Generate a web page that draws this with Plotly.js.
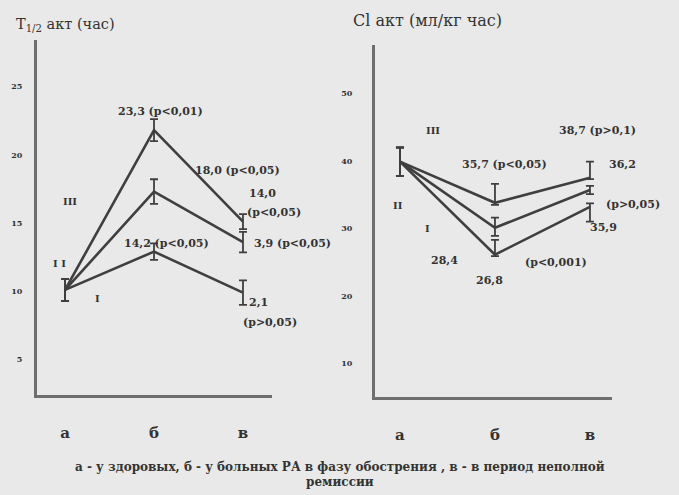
<!DOCTYPE html>
<html>
<head>
<meta charset="utf-8">
<script src="https://cdn.plot.ly/plotly-3.0.1.min.js"></script>
<style>html,body{margin:0;padding:0;background:#e9e9e9;}#chart{width:679px;height:495px;}</style>
</head>
<body>
<div id="chart"></div>
<script>
// ---- data ----
const categories = ['а', 'б', 'в'];
const catPos = [0, 1, 2];

// Left panel: T1/2 акт (час)
const halfLifeI   = [10.1, 12.9, 9.9];
const halfLifeII  = [10.1, 17.3, 13.6];
const halfLifeIII = [10.1, 21.8, 15.1];
const halfErrI    = [0.8, 0.6, 0.9];
const halfErrII   = [0.8, 0.9, 0.75];
const halfErrIII  = [0.8, 0.8, 0.55];
const halfTicks   = [5, 10, 15, 20, 25];

// Right panel: Cl акт (мл/кг час)
const clearI   = [39.9, 26.1, 33.2];
const clearII  = [39.9, 30.1, 35.7];
const clearIII = [39.9, 33.8, 37.5];
const clearErrIPlus   = [2.1, 2.2, 0.5];
const clearErrIMinus  = [2.1, 0.2, 2.2];
const clearErrIIPlus  = [2.1, 1.5, 0.6];
const clearErrIIMinus = [2.1, 1.2, 0.6];
const clearErrIIIPlus = [2.1, 2.8, 2.4];
const clearErrIIIMinus= [2.1, 0.3, 0.2];
const clearTicks = [10, 20, 30, 40, 50];

// ---- styling ----
const W = 679, H = 495;
const ink = '#3f3f3f';
const serif = 'DejaVu Serif';
const px = (x) => x / W;
const py = (y) => 1 - y / H;

function line(x, y, plus, minus, xa, ya) {
  return {
    x: x, y: y, xaxis: xa, yaxis: ya, type: 'scatter', mode: 'lines',
    line: {color: ink, width: 2.6},
    error_y: {type: 'data', symmetric: minus === undefined, array: plus,
              arrayminus: minus, color: ink, thickness: 1.8, width: 4},
    hoverinfo: 'skip', showlegend: false
  };
}

const traces = [
  line(catPos, halfLifeI, halfErrI, undefined, 'x', 'y'),
  line(catPos, halfLifeII, halfErrII, undefined, 'x', 'y'),
  line(catPos, halfLifeIII, halfErrIII, undefined, 'x', 'y'),
  line(catPos, clearI, clearErrIPlus, clearErrIMinus, 'x2', 'y2'),
  line(catPos, clearII, clearErrIIPlus, clearErrIIMinus, 'x2', 'y2'),
  line(catPos, clearIII, clearErrIIIPlus, clearErrIIIMinus, 'x2', 'y2')
];

function ann(text, x, y, size, anchor, weight) {
  return {text: text, x: px(x), y: py(y), xref: 'paper', yref: 'paper',
          xanchor: anchor || 'center', yanchor: 'middle', showarrow: false,
          font: {family: serif, size: size || 11, color: '#333', weight: weight || 'bold'}};
}

const annotations = [
  ann('T<sub>1/2</sub> акт (час)', 14, 25, 14.5, 'left', 'normal'),
  ann('Cl акт (мл/кг час)', 351, 20, 16, 'left', 'normal'),
  ann('23,3 (p<0,01)', 160, 111),
  ann('18,0 (p<0,05)', 238, 170),
  ann('14,0', 262, 193),
  ann('(p<0,05)', 274, 212),
  ann('14,2 (p<0,05)', 166, 243),
  ann('3,9 (p<0,05)', 292, 243),
  ann('2,1', 258, 302),
  ann('(p>0,05)', 270, 322),
  ann('III', 70, 202, 10),
  ann('I I', 59, 263, 10),
  ann('I', 97, 298, 10),
  ann('III', 433, 130, 10),
  ann('38,7 (p>0,1)', 597, 130),
  ann('35,7 (p<0,05)', 504, 165),
  ann('36,2', 622, 165),
  ann('II', 398, 205, 10),
  ann('(p>0,05)', 633, 204),
  ann('I', 427, 228, 10),
  ann('35,9', 603, 227),
  ann('28,4', 444, 260),
  ann('26,8', 489, 280),
  ann('(p<0,001)', 556, 262),
  ann('а - у здоровых, б - у больных РА в фазу обострения , в - в период неполной', 340, 467, 12),
  ann('ремиссии', 340, 482, 12)
];

const xBase = {
  tickvals: catPos, ticktext: categories, showgrid: false, zeroline: false,
  showline: true, linecolor: '#6e6e6e', linewidth: 3, ticks: '',
  ticklabelstandoff: 22,
  tickfont: {family: serif, size: 15, color: '#333', weight: 'bold'}
};
const yBase = {
  showgrid: false, zeroline: false, showline: true, linecolor: '#6e6e6e',
  linewidth: 3, ticks: '',
  tickfont: {family: serif, size: 8, color: '#333', weight: 'bold'}
};

const layout = {
  width: W, height: H,
  margin: {l: 0, r: 0, t: 0, b: 0},
  paper_bgcolor: '#e9e9e9', plot_bgcolor: '#e9e9e9',
  showlegend: false,
  xaxis: Object.assign({}, xBase, {domain: [px(37), px(272)], range: [-0.315, 2.326], anchor: 'y'}),
  yaxis: Object.assign({}, yBase, {domain: [py(395), py(40)], range: [2.4, 28.4], tickvals: halfTicks, anchor: 'x', ticklabelstandoff: 10}),
  xaxis2: Object.assign({}, xBase, {domain: [px(375), px(612)], range: [-0.263, 2.232], anchor: 'y2'}),
  yaxis2: Object.assign({}, yBase, {domain: [py(397), py(45)], range: [5.0, 57.2], tickvals: clearTicks, anchor: 'x2', ticklabelstandoff: 18}),
  annotations: annotations
};

Plotly.newPlot('chart', traces, layout, {staticPlot: true, displayModeBar: false});
</script>
</body>
</html>
